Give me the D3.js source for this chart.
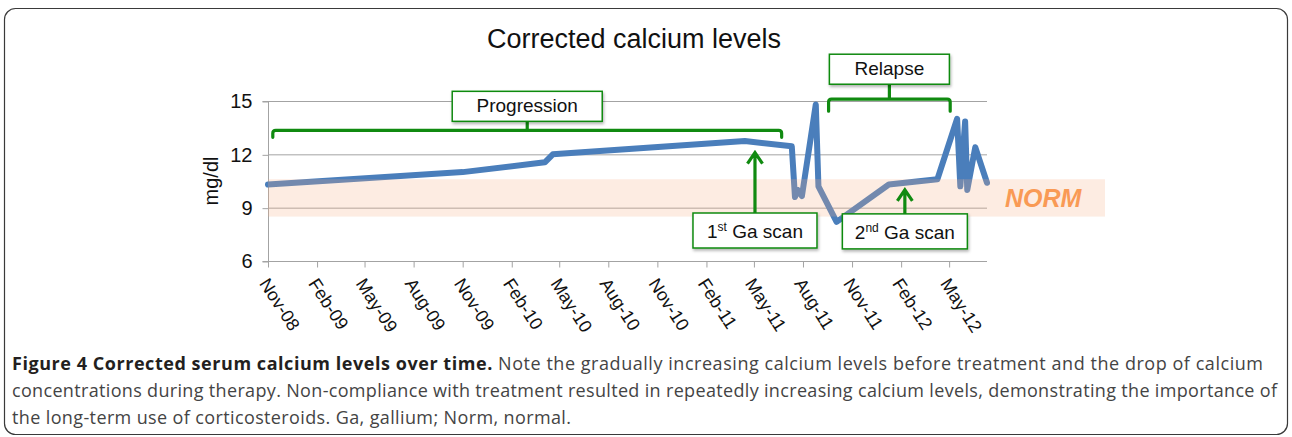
<!DOCTYPE html>
<html>
<meta charset="utf-8">
<script src="https://d3js.org/d3.v7.min.js"></script>
<style>
  body { margin: 0; background: #fff; }
  .chart text { font-family: "Liberation Sans", Arial, Helvetica, sans-serif; }
  .caption text { font-family: "Open Sans", "Noto Sans", sans-serif; }
</style>
<div id="chart_div"></div>
<script>

var dates = ["2008-11-01", "2009-11-01", "2010-04-04", "2010-04-19", "2011-04-14",
  "2011-07-11", "2011-07-17", "2011-07-22", "2011-07-30", "2011-08-25",
  "2011-08-30", "2011-10-03", "2012-01-09", "2012-04-09", "2012-05-16",
  "2012-05-22", "2012-05-31", "2012-06-04", "2012-06-19", "2012-07-11"]
var calcium = [10.3, 11.0, 11.55, 12.0, 12.75,
  12.45, 9.6, 10.0, 9.65, 14.8,
  10.2, 8.2, 10.3, 10.6, 14.0,
  10.2, 13.85, 10.0, 12.4, 10.4]

var yTicks = [6, 9, 12, 15]
var xTickLabels = ["Nov-08", "Feb-09", "May-09", "Aug-09", "Nov-09", "Feb-10", "May-10",
  "Aug-10", "Nov-10", "Feb-11", "May-11", "Aug-11", "Nov-11", "Feb-12", "May-12"]

var normRange = [8.5, 10.6]

// brackets and arrows (dates / mg/dl)
var bracketLabels = ["Progression", "Relapse"]
var bracketFrom = ["2008-11-10", "2011-09-18"]
var bracketTo = ["2011-06-22", "2012-05-03"]
var bracketLevel = [13.35, 15.1]

var arrowLabels = [["1", "st", " Ga scan"], ["2", "nd", " Ga scan"]]
var arrowDates = ["2011-05-03", "2012-02-08"]
var arrowTip = [12.1, 10.0]
var arrowBase = [8.7, 8.65]

var captionBold = "Figure 4 Corrected serum calcium levels over time."
var captionLines = [
  " Note the gradually increasing calcium levels before treatment and the drop of calcium",
  "concentrations during therapy. Non-compliance with treatment resulted in repeatedly increasing calcium levels, demonstrating the importance of",
  "the long-term use of corticosteroids. Ga, gallium; Norm, normal."
]

var W = 1292, H = 437
var parse = d3.timeParse("%Y-%m-%d")
var parseTick = d3.timeParse("%b-%y")
var green = "#108a10"
var grid = "#a3a3a3"

var root = d3.select("#chart_div").append("svg")
  .attr("width", W).attr("height", H)

var defs = root.append("defs")
var f = defs.append("filter").attr("id", "shadow")
  .attr("x", "-10%").attr("y", "-20%").attr("width", "130%").attr("height", "160%")
f.append("feDropShadow").attr("dx", 1).attr("dy", 2).attr("stdDeviation", 1.5)
  .attr("flood-color", "#000").attr("flood-opacity", 0.3)

// frame
root.append("rect")
  .attr("x", 4.5).attr("y", 8.5).attr("width", W - 9).attr("height", 426)
  .attr("rx", 11)
  .attr("fill", "none").attr("stroke", "#3a3a3a").attr("stroke-width", 1.2)

var svg = root.append("g").attr("class", "chart")

var x = d3.scaleTime()
  .domain([parse("2008-11-01"), parse("2012-07-11")])
  .range([268, 987])

var y = d3.scaleLinear()
  .domain([6, 15])
  .range([261, 101])

// title
svg.append("text")
  .attr("x", 634).attr("y", 48)
  .attr("text-anchor", "middle")
  .attr("font-size", 27)
  .attr("fill", "#111")
  .text("Corrected calcium levels")

// gridlines
svg.append("g").selectAll("line")
  .data(yTicks.slice(1))
  .enter().append("line")
  .attr("x1", x.range()[0]).attr("x2", x.range()[1])
  .attr("y1", function(d) { return y(d) + 0.5 })
  .attr("y2", function(d) { return y(d) + 0.5 })
  .attr("stroke", grid)

// y axis
var yAxis = svg.append("g")
  .attr("transform", "translate(" + (x.range()[0] + 0.5) + ",0.5)")
  .call(d3.axisLeft(y).tickValues(yTicks).tickSize(6).tickPadding(10).tickFormat(d3.format("d")))
yAxis.select(".domain").attr("stroke", grid).attr("d", "M-6," + y(6) + "H0V" + y(15) + "H-6")
yAxis.selectAll(".tick line").attr("stroke", grid)
yAxis.selectAll(".tick text")
  .attr("font-size", 20).attr("fill", "#111")
  .style("font-family", "Liberation Sans, Arial, sans-serif")

svg.append("text")
  .attr("transform", "translate(218," + y(10.5) + ") rotate(-90)")
  .attr("text-anchor", "middle")
  .attr("font-size", 20)
  .attr("fill", "#111")
  .text("mg/dl")

// x axis
var tickDates = xTickLabels.map(parseTick)
var xAxis = svg.append("g")
  .attr("transform", "translate(0," + (y(6) + 0.5) + ")")
  .call(d3.axisBottom(x).tickValues(tickDates).tickSize(6).tickFormat(""))
xAxis.select(".domain").attr("stroke", grid).attr("d", "M" + x.range()[0] + ",0H" + x.range()[1])
xAxis.selectAll(".tick line").attr("stroke", grid)

svg.append("g").selectAll("text")
  .data(tickDates)
  .enter().append("text")
  .attr("transform", function(d) {
    return "translate(" + (x(d) - 4) + "," + (y(6) + 19) + ") rotate(57)"
  })
  .attr("dy", "0.35em")
  .attr("font-size", 18)
  .attr("fill", "#111")
  .text(function(d, i) { return xTickLabels[i] })

// calcium line
var series = dates.map(function(d, i) { return {date: parse(d), value: calcium[i]} })
var line = d3.line()
  .x(function(d) { return x(d.date) })
  .y(function(d) { return y(d.value) })

svg.append("path")
  .datum(series)
  .attr("d", line)
  .attr("fill", "none")
  .attr("stroke", "#4a7ebb")
  .attr("stroke-width", 6)
  .attr("stroke-linejoin", "round")
  .attr("stroke-linecap", "round")

// normal range band, drawn over the line
svg.append("rect")
  .attr("x", x.range()[0])
  .attr("y", y(normRange[1]))
  .attr("width", 1105 - x.range()[0])
  .attr("height", y(normRange[0]) - y(normRange[1]))
  .attr("fill", "#f6b086")
  .attr("fill-opacity", 0.24)

svg.append("text")
  .attr("x", 1005).attr("y", y((normRange[0] + normRange[1]) / 2) + 9)
  .attr("font-size", 25)
  .attr("font-weight", "bold")
  .attr("font-style", "italic")
  .attr("fill", "#f99a55")
  .text("NORM")

// brackets with label boxes
var boxW = [150, 120], hook = [7, 12], gap = [9, 15]
bracketLabels.forEach(function(lab, i) {
  var x0 = x(parse(bracketFrom[i])), x1 = x(parse(bracketTo[i]))
  var yy = y(bracketLevel[i]), xm = (x0 + x1) / 2
  var h = hook[i]
  svg.append("path")
    .attr("d", "M" + x0 + "," + (yy + h) + "V" + (yy + 3) + "Q" + x0 + "," + yy + " " + (x0 + 3) + "," + yy +
      "H" + (x1 - 3) + "Q" + x1 + "," + yy + " " + x1 + "," + (yy + 3) + "V" + (yy + h) +
      "M" + xm + "," + yy + "V" + (yy - gap[i]))
    .attr("fill", "none").attr("stroke", green).attr("stroke-width", 3.2)
    .attr("stroke-linecap", "round").attr("stroke-linejoin", "round")
  var top = yy - gap[i] - 30
  svg.append("rect")
    .attr("x", xm - boxW[i] / 2).attr("y", top)
    .attr("width", boxW[i]).attr("height", 30)
    .attr("fill", "#fff").attr("stroke", green).attr("stroke-width", 1.5)
    .attr("filter", "url(#shadow)")
  svg.append("text")
    .attr("x", xm).attr("y", top + 21)
    .attr("text-anchor", "middle")
    .attr("font-size", 19).attr("fill", "#111")
    .text(lab)
})

// arrows with label boxes
var arrowBoxW = [124, 125]
arrowLabels.forEach(function(lab, i) {
  var ax = x(parse(arrowDates[i]))
  var yt = y(arrowTip[i]), yb = y(arrowBase[i])
  svg.append("path")
    .attr("d", "M" + ax + "," + yb + "V" + (yt + 1) +
      "M" + (ax - 7.5) + "," + (yt + 11) + "L" + ax + "," + yt + "L" + (ax + 7.5) + "," + (yt + 11))
    .attr("fill", "none").attr("stroke", green).attr("stroke-width", 3.2)
    .attr("stroke-linejoin", "miter")
  svg.append("rect")
    .attr("x", ax - arrowBoxW[i] / 2).attr("y", yb)
    .attr("width", arrowBoxW[i]).attr("height", 35)
    .attr("fill", "#fff").attr("stroke", green).attr("stroke-width", 1.5)
    .attr("filter", "url(#shadow)")
  var t = svg.append("text")
    .attr("x", ax).attr("y", yb + 25)
    .attr("text-anchor", "middle")
    .attr("font-size", 19).attr("fill", "#111")
  t.append("tspan").text(lab[0])
  t.append("tspan").attr("font-size", 12).attr("dy", -7).text(lab[1])
  t.append("tspan").attr("dy", 7).text(lab[2])
})

// caption
var cap = root.append("g").attr("class", "caption")
var c1 = cap.append("text")
  .attr("x", 12).attr("y", 370)
  .attr("font-size", 18)
  .attr("textLength", 1251).attr("lengthAdjust", "spacing")
c1.append("tspan").attr("font-weight", "bold").attr("fill", "#231f20").text(captionBold)
c1.append("tspan").attr("fill", "#444").text(captionLines[0])
cap.append("text")
  .attr("x", 12).attr("y", 397)
  .attr("font-size", 18).attr("fill", "#444")
  .attr("textLength", 1265).attr("lengthAdjust", "spacing")
  .text(captionLines[1])
cap.append("text")
  .attr("x", 12).attr("y", 424)
  .attr("font-size", 18).attr("fill", "#444")
  .attr("textLength", 559).attr("lengthAdjust", "spacing")
  .text(captionLines[2])

</script>
</html>
